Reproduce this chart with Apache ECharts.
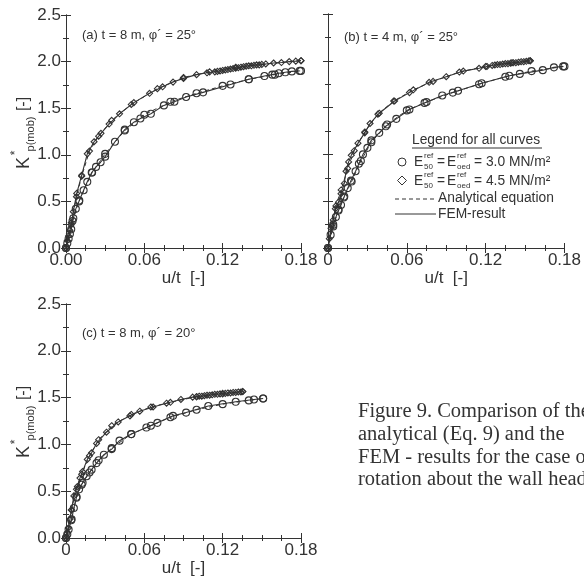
<!DOCTYPE html>
<html><head><meta charset="utf-8">
<script src="https://cdn.jsdelivr.net/npm/echarts@6/dist/echarts.min.js"></script>
<style>html,body{margin:0;padding:0;background:#fff}#c{width:584px;height:584px}</style>
</head><body><div id="c"></div>
<script>
// ---- data ----
const xTicks = [0, 0.06, 0.12, 0.18];
const yTicks = [0, 0.5, 1.0, 1.5, 2.0, 2.5];
const panelTitles = ['(a) t = 8 m, \u03c6\u00b4 = 25\u00b0', '(b) t = 4 m, \u03c6\u00b4 = 25\u00b0', '(c) t = 8 m, \u03c6\u00b4 = 20\u00b0'];

// panel (a)
const aDiaX = [0,0.001,0.002,0.003,0.004,0.0056,0.0082,0.012,0.0163,0.0215,0.0268,0.033,0.041,0.052,0.064,0.074,0.082,0.090,0.100,0.108,
  0.114,0.116,0.118,0.120,0.122,0.124,0.126,0.128,0.130,0.132,0.134,0.136,0.138,0.140,0.142,0.144,0.146,0.148,
  0.153,0.159,0.165,0.171,0.176,0.180];
const aDiaY = [0,0.08,0.13,0.19,0.25,0.39,0.586,0.78,1.01,1.14,1.23,1.33,1.44,1.56,1.66,1.73,1.78,1.82,1.86,1.88,
  1.89,1.895,1.90,1.905,1.91,1.915,1.92,1.925,1.93,1.935,1.94,1.945,1.95,1.955,1.955,1.96,1.965,1.965,
  1.975,1.985,1.99,2.0,2.005,2.01];
const aCirX = [0,0.001,0.002,0.003,0.004,0.0056,0.0075,0.0102,0.0135,0.0163,0.0197,0.023,0.0265,0.030,0.0375,0.045,0.052,0.057,0.065,0.075,0.083,0.092,0.105,0.126,0.140,0.152,0.158,0.163,0.168,0.173,0.179];
const aCirY = [0,0.05,0.10,0.15,0.20,0.32,0.42,0.51,0.62,0.71,0.81,0.87,0.92,0.98,1.14,1.27,1.35,1.39,1.44,1.53,1.57,1.62,1.67,1.755,1.81,1.845,1.86,1.875,1.885,1.895,1.90];
const aDiaAnX = [0,0.004,0.008,0.012,0.018,0.025,0.035,0.050,0.070,0.090,0.110,0.130,0.150,0.180];
const aDiaAnY = [0,0.27,0.55,0.77,1.04,1.20,1.37,1.54,1.71,1.83,1.89,1.94,1.97,2.01];
const aCirAnX = [0,0.005,0.010,0.020,0.030,0.045,0.060,0.080,0.100,0.120,0.140,0.160,0.180];
const aCirAnY = [0,0.29,0.50,0.81,1.01,1.26,1.43,1.57,1.66,1.74,1.81,1.86,1.90];

// panel (b)
const bDiaX = [0,0.001,0.0023,0.004,0.0056,0.008,0.0099,0.0124,0.0137,0.0157,0.0177,0.0228,0.028,0.032,0.039,0.0507,0.062,0.077,0.090,0.103,0.115,0.121,
  0.125,0.127,0.129,0.131,0.133,0.135,0.137,0.139,0.141,0.143,0.145,0.147,0.149,0.151,0.153,0.154];
const bDiaY = [0,0.10,0.21,0.30,0.42,0.49,0.58,0.69,0.82,0.92,0.99,1.12,1.23,1.33,1.44,1.57,1.66,1.77,1.83,1.89,1.92,1.94,
  1.95,1.955,1.96,1.96,1.965,1.97,1.97,1.975,1.98,1.98,1.985,1.99,1.99,1.995,2.0,2.0];
const bCirX = [0,0.002,0.004,0.006,0.008,0.0099,0.0124,0.015,0.0175,0.021,0.0235,0.0266,0.030,0.033,0.039,0.044,0.052,0.062,0.0735,0.087,0.099,0.117,0.138,0.146,0.1635,0.172,0.179];
const bCirY = [0,0.14,0.25,0.33,0.40,0.46,0.55,0.64,0.72,0.82,0.90,1.00,1.07,1.15,1.23,1.30,1.38,1.48,1.55,1.63,1.68,1.76,1.84,1.86,1.90,1.93,1.94];
const bDiaAnX = [0,0.003,0.006,0.010,0.015,0.020,0.028,0.038,0.050,0.065,0.080,0.100,0.120,0.140,0.154];
const bDiaAnY = [0,0.24,0.45,0.62,0.85,1.04,1.24,1.43,1.57,1.69,1.78,1.88,1.94,1.98,2.0];
const bCirAnX = [0,0.004,0.008,0.012,0.018,0.025,0.033,0.045,0.060,0.075,0.095,0.115,0.135,0.155,0.180];
const bCirAnY = [0,0.23,0.41,0.54,0.71,0.93,1.13,1.32,1.47,1.56,1.66,1.75,1.83,1.89,1.94];

// panel (c)
const cDiaX = [0,0.001,0.0018,0.003,0.0043,0.006,0.0087,0.0107,0.0127,0.0163,0.0196,0.0234,0.031,0.040,0.049,0.0565,0.0667,0.077,0.088,0.097,
  0.100,0.102,0.104,0.106,0.108,0.110,0.112,0.114,0.116,0.118,0.120,0.122,0.124,0.126,0.128,0.130,0.132,0.134,0.1354];
const cDiaY = [0,0.05,0.107,0.20,0.30,0.45,0.55,0.64,0.71,0.84,0.91,1.01,1.13,1.24,1.305,1.355,1.40,1.44,1.48,1.505,
  1.51,1.515,1.515,1.52,1.525,1.525,1.53,1.535,1.535,1.54,1.54,1.545,1.55,1.55,1.555,1.555,1.56,1.56,1.565];
const cCirX = [0,0.001,0.002,0.0043,0.006,0.0081,0.010,0.0127,0.0158,0.0196,0.0234,0.029,0.035,0.041,0.050,0.0616,0.070,0.082,0.092,0.109,0.130,0.144,0.151];
const cCirY = [0,0.04,0.09,0.20,0.32,0.44,0.52,0.59,0.66,0.73,0.80,0.89,0.95,1.04,1.11,1.18,1.23,1.305,1.34,1.41,1.455,1.48,1.49];
const cDiaAnX = [0,0.004,0.008,0.012,0.018,0.025,0.035,0.050,0.065,0.080,0.100,0.120,0.1354];
const cDiaAnY = [0,0.30,0.52,0.68,0.88,1.05,1.20,1.32,1.40,1.45,1.51,1.545,1.565];
const cCirAnX = [0,0.004,0.008,0.012,0.018,0.025,0.035,0.050,0.065,0.080,0.100,0.120,0.140,0.151];
const cCirAnY = [0,0.19,0.43,0.57,0.70,0.83,0.96,1.11,1.20,1.29,1.37,1.43,1.47,1.49];

// ---- chart ----
const INK = '#333';
const grids = [
  {left:66, top:15, width:235, height:233},
  {left:328, top:14, width:237, height:234},
  {left:66, top:304, width:235, height:234}
];
function zip(xs, ys){ return xs.map((x,i)=>[x, ys[i]]); }
const panels = [
  {dia:[aDiaX,aDiaY], cir:[aCirX,aCirY], diaAn:[aDiaAnX,aDiaAnY], cirAn:[aCirAnX,aCirAnY]},
  {dia:[bDiaX,bDiaY], cir:[bCirX,bCirY], diaAn:[bDiaAnX,bDiaAnY], cirAn:[bCirAnX,bCirAnY]},
  {dia:[cDiaX,cDiaY], cir:[cCirX,cCirY], diaAn:[cDiaAnX,cDiaAnY], cirAn:[cCirAnX,cCirAnY]}
];
const FONT = 'Liberation Sans, Arial, sans-serif';
const xAxis = [], yAxis = [], series = [];
function tickCfg(){ return {show:true, inside:true, length:5, lineStyle:{color:INK}}; }
grids.forEach((g, i) => {
  function xa(pos, labels){
    return {
      type:'value', gridIndex:i, position:pos, min:xTicks[0], max:xTicks[xTicks.length-1], interval:xTicks[1]-xTicks[0],
      axisLine:{show:true, lineStyle:{color:INK, width:1}},
      axisTick:tickCfg(),
      minorTick:{show:true, splitNumber:4, length:3, lineStyle:{color:INK}},
      splitLine:{show:false},
      name: labels ? 'u/t  [-]' : '', nameLocation:'middle', nameGap:22,
      nameTextStyle:{fontFamily:FONT, fontSize:17, color:INK},
      axisLabel:{show:labels, margin:4, fontFamily:FONT, fontSize:17, color:INK,
        formatter: v => (i===0 ? v.toFixed(2) : (v===0 ? '0' : v.toFixed(2)))}
    };
  }
  function ya(pos, labels){
    return {
      type:'value', gridIndex:i, position:pos, min:yTicks[0], max:yTicks[yTicks.length-1], interval:yTicks[1]-yTicks[0],
      axisLine:{show:true, lineStyle:{color:INK, width:1}},
      axisTick:tickCfg(),
      minorTick:{show:true, splitNumber:2, length:3, lineStyle:{color:INK}},
      splitLine:{show:false},
      axisLabel:{show:labels, margin:5, fontFamily:FONT, fontSize:17, color:INK, formatter: v => v.toFixed(1)}
    };
  }
  xAxis.push(xa('bottom', true));
  xAxis.push(xa('top', false));
  yAxis.push(ya('left', i!==1));
  yAxis.push(ya('right', false));

  const p = panels[i];
  const xi = i*2, yi = i*2;
  const mStyle = {color:'rgba(255,255,255,0)', borderColor:INK, borderWidth:1.1};
  series.push({type:'line', xAxisIndex:xi, yAxisIndex:yi, data:zip(p.cirAn[0],p.cirAn[1]), symbol:'circle', symbolSize:7,
    itemStyle:mStyle, lineStyle:{color:INK, width:1, type:[4,3]}, silent:true, animation:false});
  series.push({type:'line', xAxisIndex:xi, yAxisIndex:yi, data:zip(p.cir[0],p.cir[1]), symbol:'circle', symbolSize:7,
    itemStyle:mStyle, lineStyle:{color:INK, width:1.1}, silent:true, animation:false});
  series.push({type:'line', xAxisIndex:xi, yAxisIndex:yi, data:zip(p.diaAn[0],p.diaAn[1]), symbol:'diamond', symbolSize:6,
    itemStyle:mStyle, lineStyle:{color:INK, width:1, type:[4,3]}, silent:true, animation:false});
  series.push({type:'line', xAxisIndex:xi, yAxisIndex:yi, data:zip(p.dia[0],p.dia[1]), symbol:'diamond', symbolSize:6,
    itemStyle:mStyle, lineStyle:{color:INK, width:1.1}, silent:true, animation:false});
});

function txt(x, y, text, size, opts){
  return {type:'text', x:x, y:y, silent:true,
    style:Object.assign({text:text, font:size+'px '+FONT, fill:INK, align:'left', verticalAlign:'middle'}, opts||{})};
}
function rtxt(x, y, text, size){
  return {type:'text', x:x, y:y, rotation:Math.PI/2, silent:true,
    style:{text:text, font:size+'px '+FONT, fill:INK, align:'center', verticalAlign:'middle'}};
}
const graphic = [];
// panel titles
graphic.push(txt(82, 35, panelTitles[0], 13));
graphic.push(txt(344, 37, panelTitles[1], 13));
graphic.push(txt(82, 333, panelTitles[2], 13));
// y axis titles
[0, 289].forEach(dy => {
  graphic.push(rtxt(24, 163+dy, 'K', 18));
  graphic.push(rtxt(16, 153+dy, '*', 12));
  graphic.push(rtxt(31, 134+dy, 'p(mob)', 11));
  graphic.push(rtxt(24, 104+dy, '[-]', 16));
});
// legend
graphic.push(txt(412, 140, 'Legend for all curves', 13.8));
graphic.push({type:'line', silent:true, shape:{x1:412, y1:148, x2:542, y2:148}, style:{stroke:INK, lineWidth:1}});
function eRow(y, valText){
  return [
    txt(414, y, 'E', 13.8),
    txt(424, y-6, 'ref', 8),
    txt(424, y+5, '50', 8),
    txt(437, y, '=', 13.8),
    txt(447, y, 'E', 13.8),
    txt(457, y-6, 'ref', 8),
    txt(457, y+5, 'oed', 8),
    txt(474, y, '= ' + valText, 13.8)
  ];
}
graphic.push({type:'circle', silent:true, shape:{cx:402, cy:162, r:4}, style:{fill:'none', stroke:INK, lineWidth:1}});
eRow(162, '3.0 MN/m\u00b2').forEach(e => graphic.push(e));
graphic.push({type:'polygon', silent:true, shape:{points:[[402,176],[406.5,180.5],[402,185],[397.5,180.5]]}, style:{fill:'none', stroke:INK, lineWidth:1}});
eRow(181, '4.5 MN/m\u00b2').forEach(e => graphic.push(e));
graphic.push({type:'line', silent:true, shape:{x1:395, y1:199, x2:437, y2:199}, style:{stroke:INK, lineWidth:1, lineDash:[4,3]}});
graphic.push(txt(438, 198, 'Analytical equation', 13.8));
graphic.push({type:'line', silent:true, shape:{x1:395, y1:214, x2:436, y2:214}, style:{stroke:INK, lineWidth:1}});
graphic.push(txt(438, 214, 'FEM-result', 13.8));
// caption
const SERIF = 'Liberation Serif, Times New Roman, serif';
const capLines = ['Figure 9. Comparison of the', 'analytical (Eq. 9) and the', 'FEM - results for the case of', 'rotation about the wall head'];
capLines.forEach((l, k) => graphic.push({type:'text', x:358, y:412 + k*22.7, silent:true,
  style:{text:l, font:'20.5px '+SERIF, fill:INK, align:'left', verticalAlign:'middle'}}));

const chart = echarts.init(document.getElementById('c'), null, {renderer:'canvas'});
chart.setOption({
  animation:false,
  backgroundColor:'#fff',
  grid: grids,
  xAxis: xAxis,
  yAxis: yAxis,
  series: series,
  graphic: graphic
});
</script>
</body></html>
